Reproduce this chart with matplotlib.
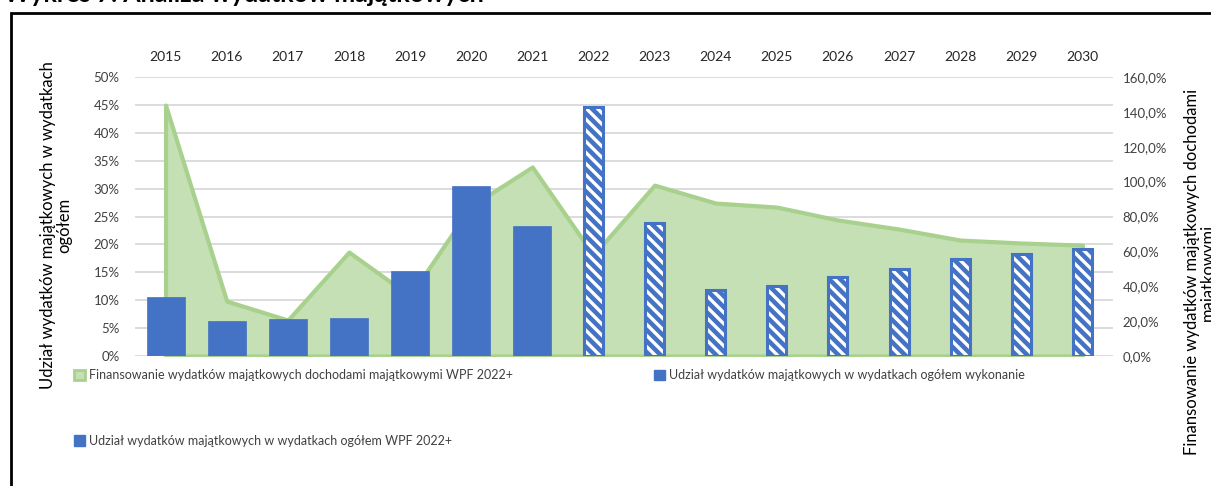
import numpy as np
import matplotlib.pyplot as plt
from matplotlib.patches import Patch, Rectangle
from matplotlib.ticker import FuncFormatter

plt.rcParams['font.family'] = ['Lato', 'DejaVu Sans']
plt.rcParams['hatch.linewidth'] = 2.4

# data
years = ['2015', '2016', '2017', '2018', '2019', '2020', '2021', '2022',
         '2023', '2024', '2025', '2026', '2027', '2028', '2029', '2030']
# right axis, area (%)
financing = [143.9, 31.5, 20.6, 59.6, 34.4, 86.0, 108.4, 57.9,
             98.0, 87.7, 85.4, 78.0, 72.8, 66.5, 64.8, 63.6]
# left axis, bars (share)
share_done = [0.106, 0.063, 0.066, 0.068, 0.152, 0.305, 0.233]
share_plan = [0.446, 0.238, 0.118, 0.125, 0.142, 0.156, 0.174, 0.183, 0.192]

lab_fin = 'Finansowanie wydatków majątkowych dochodami majątkowymi WPF 2022+'
lab_done = 'Udział wydatków majątkowych w wydatkach ogółem wykonanie'
lab_plan = 'Udział wydatków majątkowych w wydatkach ogółem WPF 2022+'

blue = '#4472C4'
green_fill = '#C5E0B4'
green_line = '#A9D18E'
grid_col = '#D9D9D9'
txt = '#404040'

x = np.arange(len(years))
x_done = x[:len(share_done)]
x_plan = x[len(share_done):]

fig = plt.figure(figsize=(12.11, 4.86), dpi=100)
pos = [135/1211, 1 - 356/486, (1113 - 135)/1211, (356 - 77)/486]

# left axis with grid
ax = fig.add_axes(pos)
ax.set_ylim(0, 0.5)
ax.set_xlim(-0.5, len(years) - 0.5)
ax.set_yticks(np.arange(0, 0.51, 0.05))
ax.yaxis.set_major_formatter(FuncFormatter(lambda v, p: f'{v*100:.0f}%'))
ax.grid(axis='y', color=grid_col, lw=1.3)
ax.set_axisbelow(True)
for s in ax.spines.values():
    s.set_visible(False)
ax.tick_params(axis='y', length=0, pad=11, labelsize=9.5, labelcolor=txt)
ax.xaxis.tick_top()
ax.set_xticks(x)
ax.set_xticklabels(years)
ax.tick_params(axis='x', length=0, pad=10, labelsize=10, labelcolor='#262626')

# right axis with area
ax2 = ax.twinx()
ax2.set_ylim(0, 160)
ax2.set_yticks(np.arange(0, 161, 20))
ax2.yaxis.set_major_formatter(FuncFormatter(lambda v, p: f'{v:.1f}%'.replace('.', ',')))
ax2.tick_params(axis='y', length=0, pad=7, labelsize=9.5, labelcolor=txt)
for s in ax2.spines.values():
    s.set_visible(False)
ax2.fill_between(x, 0, financing, facecolor=green_fill, edgecolor=green_line,
                 linewidth=3, joinstyle='round')

# bars on top, left scale
ax3 = ax.twinx()
ax3.set_ylim(0, 0.5)
ax3.axis('off')
ax3.bar(x_done, share_done, width=0.62, color=blue, edgecolor=blue, lw=0.5)
ax3.bar(x_plan, share_plan, width=0.31, color=blue, edgecolor='white',
        hatch='\\\\\\', lw=0)
ax3.bar(x_plan, share_plan, width=0.31, fill=False, edgecolor=blue, lw=2.2)

ax.set_zorder(0)
ax2.set_zorder(1)
ax3.set_zorder(2)
ax2.patch.set_visible(False)
ax3.patch.set_visible(False)

# axis titles
fig.text(56/1211, 1 - 225/486, 'Udział wydatków majątkowych w wydatkach\nogółem',
         rotation=90, ha='center', va='center', ma='center', fontsize=12,
         linespacing=1.05)
fig.text(1200/1211, 1 - 272/486, 'Finansowanie wydatków majątkowych dochodami\nmajątkowymi',
         rotation=90, ha='center', va='center', ma='center', fontsize=12,
         linespacing=1.05)

# legends
h_fin = Patch(facecolor=green_fill, edgecolor=green_line, lw=2)
h_plan = Patch(facecolor=blue, edgecolor=blue, lw=1)
h_done = Patch(facecolor=blue, edgecolor=blue)
leg_kw = dict(frameon=False, fontsize=9, handlelength=0.9, handleheight=0.9,
              handletextpad=0.3, borderpad=0, borderaxespad=0, labelcolor=txt)
fig.legend([h_fin, h_plan], [lab_fin, lab_plan], loc='upper left',
           bbox_to_anchor=(74/1211, 1 - 369/486), labelspacing=4.3, **leg_kw)
fig.legend([h_done], [lab_done], loc='upper left',
           bbox_to_anchor=(654/1211, 1 - 369/486), **leg_kw)

# frame and cut-off heading
fig.patches.append(Rectangle((11/1211, -0.1), 1.2, 1 - 13/486 + 0.1,
                             transform=fig.transFigure, fill=False,
                             edgecolor='black', lw=2))
fig.text(4/1211, 1 - 2/486, 'Wykres 7. Analiza wydatków majątkowych',
         fontsize=18, fontweight='bold', ha='left', va='baseline')

fig.savefig('out.png', dpi=100)
